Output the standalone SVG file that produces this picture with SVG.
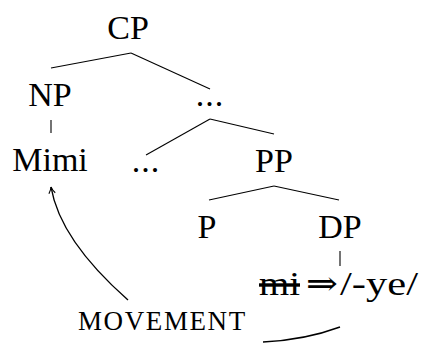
<svg xmlns="http://www.w3.org/2000/svg" width="423" height="344" viewBox="0 0 423 344">
<style>
text{font-family:'Liberation Serif','DejaVu Serif',serif;fill:#000}
.t{font-size:34px;text-anchor:middle}
.s{font-size:27px;letter-spacing:1.6px}
.e{stroke:#000;stroke-width:1.1;fill:none}
.a{stroke:#000;stroke-width:1.4;fill:none}
</style>
<defs>
<marker id="ah" viewBox="0 0 10 10" refX="9" refY="5" markerWidth="8" markerHeight="8" markerUnits="userSpaceOnUse" orient="auto">
<path d="M1 1 Q5 4 9 5 Q5 6 1 9" stroke="#000" stroke-width="1.4" fill="none"/>
</marker>
</defs>
<g id="edges">
<line class="e" x1="131" y1="53" x2="51" y2="68"/>
<line class="e" x1="131" y1="53" x2="210" y2="89"/>
<line class="e" x1="51" y1="120" x2="51" y2="133"/>
<line class="e" x1="210" y1="119" x2="146" y2="155"/>
<line class="e" x1="210" y1="119" x2="274" y2="134"/>
<line class="e" x1="274" y1="186" x2="209" y2="200"/>
<line class="e" x1="274" y1="186" x2="339" y2="200"/>
<line class="e" x1="340" y1="251" x2="340" y2="266"/>
<path class="a" d="M128 300 Q60 240 51 187" marker-end="url(#ah)"/>
<path class="a" d="M263 342 Q305 340 340 327"/>
</g>
<g id="CP"><text class="t" x="128" y="39">CP</text></g>
<g id="NP"><text class="t" x="50" y="106">NP</text></g>
<g id="dots1"><text class="t" x="210" y="106" letter-spacing="1">...</text></g>
<g id="Mimi"><text class="t" x="50" y="171">Mimi</text></g>
<g id="dots2"><text class="t" x="146" y="172" letter-spacing="1">...</text></g>
<g id="PP"><text class="t" x="274" y="172">PP</text></g>
<g id="P"><text class="t" x="207" y="238">P</text></g>
<g id="DP"><text class="t" x="340" y="238">DP</text></g>
<g id="mi"><text class="t" y="295" style="text-anchor:start"><tspan x="259" text-decoration="line-through" textLength="41" lengthAdjust="spacingAndGlyphs">mi</tspan> <tspan x="306" textLength="32" lengthAdjust="spacingAndGlyphs">⇒</tspan><tspan x="340" textLength="78" lengthAdjust="spacingAndGlyphs">/-ye/</tspan></text></g>
<g id="movement"><text class="s" x="78" y="330">MOVEMENT</text></g>
</svg>
